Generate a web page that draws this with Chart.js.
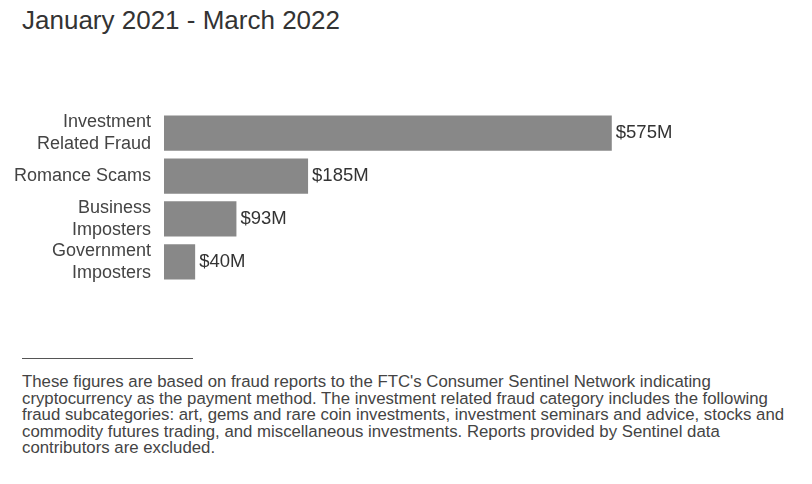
<!DOCTYPE html>
<html><head><meta charset="utf-8">
<script src="https://cdn.jsdelivr.net/npm/chart.js@4/dist/chart.umd.min.js"></script>
<style>
body{margin:0;width:812px;height:484px;background:#fff;font-family:"Liberation Sans",Arial,sans-serif;position:relative;overflow:hidden}
#t{position:absolute;left:22px;top:5px;font-size:26px;color:#333}
#c{position:absolute;left:0;top:85px}
#hr{position:absolute;left:22px;top:358px;width:171px;border-top:1px solid #555}
#n{position:absolute;left:22px;top:374px;width:788px;font-size:16.8px;line-height:16.6px;color:#444}
</style></head><body>
<div id="t">January 2021 - March 2022</div>
<canvas id="c" width="812" height="225" style="width:812px;height:225px"></canvas>
<div id="hr"></div>
<div id="n">These figures are based on fraud reports to the FTC's Consumer Sentinel Network indicating cryptocurrency as the payment method. The investment related fraud category includes the following fraud subcategories: art, gems and rare coin investments, investment seminars and advice, stocks and commodity futures trading, and miscellaneous investments. Reports provided by Sentinel data contributors are excluded.</div>
<script>
const categories=[["Investment","Related Fraud"],["Romance Scams"],["Business","Imposters"],["Government","Imposters"]];
const values=[575,185,93,40];
const valueLabels=["$575M","$185M","$93M","$40M"];
const lbl={id:'lbl',afterDatasetsDraw(ch){const c=ch.ctx;const m=ch.getDatasetMeta(0);c.save();c.font='18.5px "Liberation Sans",Arial';c.fillStyle='#333';c.textBaseline='middle';m.data.forEach((b,i)=>c.fillText(valueLabels[i],b.x+4,b.y));c.restore();}};
new Chart(document.getElementById('c'),{type:'bar',data:{labels:categories,datasets:[{data:values,backgroundColor:'#888',categoryPercentage:0.82,barPercentage:1}]},
options:{indexAxis:'y',responsive:false,animation:false,layout:{padding:{right:25,top:0,bottom:0}},
plugins:{legend:{display:false},tooltip:{enabled:false}},
scales:{x:{min:0,max:800,display:false},y:{grid:{display:false},border:{display:false},ticks:{color:'#444',padding:5,font:{size:18,family:'"Liberation Sans",Arial',lineHeight:1.2}},afterFit(s){s.width=164;}}}},plugins:[lbl]});
</script></body></html>
